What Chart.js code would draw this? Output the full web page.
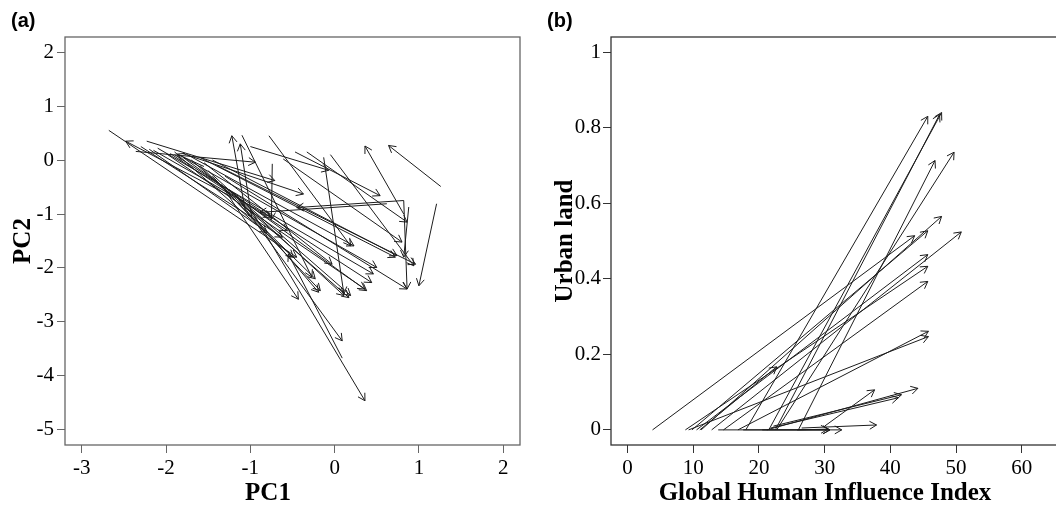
<!DOCTYPE html>
<html>
<head>
<meta charset="utf-8">
<script src="https://cdn.jsdelivr.net/npm/chart.js@4.4.1/dist/chart.umd.min.js"></script>
<style>
html, body { margin:0; padding:0; background:#fff; overflow:hidden; }
#wrap { position:relative; width:1056px; height:509px; overflow:hidden; }
.panel { position:absolute; top:0; height:509px; }
.tag { position:absolute; top:9px; font:bold 20px 'Liberation Sans', Arial, sans-serif; color:#000; line-height:23px; }
</style>
</head>
<body>
<div id="wrap">
  <div class="panel" style="left:0;width:536px"><canvas id="ca" width="536" height="509"></canvas></div>
  <div class="panel" style="left:536px;width:578px"><canvas id="cb" width="578" height="509"></canvas></div>
  <div class="tag" style="left:11px">(a)</div>
  <div class="tag" style="left:547px">(b)</div>
</div>
<script>
// panel (a): PC1 / PC2 arrows, start -> end
const aX0 = [-2.68,-1.20,-2.36,-2.23,-1.06,-0.98,-1.55, 0.82, 1.26, 1.21,-0.47, 0.82, 0.62, 0.82, 0.88,-0.13,-1.10,-0.78,-0.33,-0.61,-0.05,-0.74, 0.09,-1.00,-1.20,-1.35,-1.60,-1.45,-1.70,-1.50,-1.80,-1.90,-1.30,-2.00,-1.25,-1.15,-1.85,-2.10,-1.55,-1.75,-1.45,-1.60,-1.40,-1.90,-2.20,-1.80,-2.30,-1.95,-2.15,-1.00]
const aY0 = [ 0.55,-0.70, 0.16, 0.35,-0.94,-1.10,-0.12,-1.00,-0.49,-0.81, 0.15,-0.75,-0.81,-0.75,-0.87, 0.05, 0.46, 0.45, 0.15, 0.02, 0.10,-0.07,-3.67,-0.90,-0.60,-0.45,-0.10,-0.30, 0.00,-0.20, 0.05, 0.10,-0.30, 0.12,-0.55,-0.70, 0.10, 0.22,-0.05, 0.10, 0.00, 0.05,-0.10, 0.15, 0.20, 0.12, 0.25, 0.12, 0.18, 0.25]
const aX1 = [-0.45,-2.48,-0.94,-0.71,-1.22,-1.12,-1.87, 0.36, 0.64, 1.00, 0.54,-0.45,-0.89, 0.86, 0.82, 0.11,-0.27, 0.19, 0.86, 0.80, 0.94,-0.75,-0.55, 0.36, 0.09,-0.43,-0.23,-0.17, 0.17, 0.11, 0.38, 0.44, 0.86, 0.36, 0.19,-0.19, 0.50, 0.46,-0.03, 0.23, 0.74, 0.72, 0.96,-0.49,-0.80,-0.37,-0.62,-0.56,-0.76,-0.07]
const aY1 = [-1.80, 0.35,-0.04,-0.38, 0.45, 0.30, 0.11, 0.26, 0.27,-2.33,-0.66,-0.88,-0.97,-2.39,-1.80,-2.48,-2.17,-1.59,-1.15,-1.52,-1.96,-1.10,-1.74,-4.46,-3.35,-2.58,-2.20,-2.42,-2.55,-2.51,-2.42,-2.27,-2.39,-2.39,-2.51,-2.45,-1.99,-2.11,-1.93,-1.59,-1.77,-1.80,-1.93,-1.80,-1.34,-0.63,-1.43,-1.31,-1.06,-0.19]
const aTicksX = [-3,-2,-1,0,1,2]
const aTicksY = [-5,-4,-3,-2,-1,0,1,2]

// panel (b): Global Human Influence Index / Urban land arrows
const bX0 = [3.8, 8.8, 9.3, 9.8,10.5,11.2,12.8,14.6,16.8,18.0,21.5,22.5,26.0,22.7,11.0,30.0,22.2,21.8,21.2,26.5,13.8,17.6,20.5,25.8]
const bY0 = [0,   0,   0,   0,   0,   0,   0,   0,   0,   0,   0,   0,   0,   0,   0,   0.01,0.01,0.005,0,  0.005,0,   0,   0,   0]
const bX1 = [43.7,45.7,45.8,45.7,45.7,47.8,50.8,45.7,45.8,45.7,47.8,47.5,46.8,49.7,22.7,37.6,41.7,41.2,44.2,37.9,30.8,30.8,32.6,30.5]
const bY1 = [0.514,0.433,0.247,0.527,0.464,0.565,0.524,0.393,0.261,0.83,0.84,0.835,0.713,0.735,0.167,0.106,0.093,0.085,0.11,0.013,0,0,0,0.002]
const bTicksX = [0,10,20,30,40,50,60]
const bTicksY = [0,0.2,0.4,0.6,0.8,1]

const serif = 'Liberation Serif'

// arrowheads at the end point of every two-point line
const heads = {
    id:'heads',
    afterDatasetsDraw(chart){
        const ctx = chart.ctx
        ctx.save()
        ctx.strokeStyle = '#1c1c1c'
        ctx.lineWidth = 1
        chart.data.datasets.forEach((d,i)=>{
            const m = chart.getDatasetMeta(i)
            const p0 = m.data[0], p1 = m.data[1]
            const ang = Math.atan2(p1.y-p0.y, p1.x-p0.x)
            ctx.beginPath()
            for (const s of [-1,1]) {
                ctx.moveTo(p1.x, p1.y)
                ctx.lineTo(p1.x - 8*Math.cos(ang + s*0.52), p1.y - 8*Math.sin(ang + s*0.52))
            }
            ctx.stroke()
        })
        ctx.restore()
    }
}

// box round the plot region
const frame = {
    id:'frame',
    afterDraw(chart, args, opts){
        const a = chart.chartArea, ctx = chart.ctx
        ctx.save()
        ctx.strokeStyle = opts.color
        ctx.lineWidth = 1.3
        ctx.strokeRect(a.left, a.top, a.right-a.left, a.bottom-a.top)
        ctx.restore()
    }
}

function arrows(x0,y0,x1,y1){
    return x0.map((v,i)=>({
        data:[{x:v,y:y0[i]},{x:x1[i],y:y1[i]}],
        showLine:true,
        borderColor:'#1c1c1c',
        borderWidth:1,
        pointRadius:0,
        pointHoverRadius:0
    }))
}

function axis(min, max, ticks, title, size, tickPad, titlePad, boxColor){
    return {
        type:'linear', min, max,
        afterBuildTicks: s => { s.ticks = ticks.map(v=>({value:v})) },
        afterFit: s => { if (s.isHorizontal()) s.height = size; else s.width = size },
        grid:{ display:true, drawOnChartArea:false, drawTicks:true, tickLength:8, color:boxColor, lineWidth:1 },
        border:{ display:false },
        ticks:{ autoSkip:false, maxRotation:0, padding:tickPad, color:'#000', font:{family:serif, size:21}, callback:v=>String(v) },
        title: title ? { display:true, text:title, color:'#000', font:{family:serif, size:25, weight:'bold'}, padding:{top:titlePad, bottom:0} } : { display:false }
    }
}

function makeChart(id, sets, xs, ys, rightW, xTitle, boxColor){
    return new Chart(document.getElementById(id), {
        type:'scatter',
        data:{ datasets:sets },
        options:{
            responsive:false,
            animation:false,
            events:[],
            layout:{ padding:{ top:37, left:0, right:0, bottom:0 } },
            scales:{
                x: xs,
                y: ys,
                pad:{ type:'linear', position:'right', afterFit: s => { s.width = rightW },
                      ticks:{ display:false }, grid:{ display:false }, border:{ display:false } }
            },
            plugins:{
                legend:{ display:false },
                tooltip:{ enabled:false },
                frame:{ color:boxColor },
                title:{ display:true, position:'bottom', text:xTitle, color:'#000',
                        font:{family:serif, size:25, weight:'bold'}, padding:{top:4, bottom:0} }
            }
        },
        plugins:[heads, frame]
    })
}

makeChart('ca', arrows(aX0,aY0,aX1,aY1),
    axis(-3.2, 2.2, aTicksX, null, 30, 3, 0, '#666'),
    axis(-5.28, 2.28, aTicksY, 'PC2', 65, 3, 9, '#666'),
    16, 'PC1', '#666')

makeChart('cb', arrows(bX0,bY0,bX1,bY1),
    axis(-2.52, 65.52, bTicksX, null, 30, 3, 0, '#333'),
    axis(-0.04, 1.04, bTicksY, 'Urban land', 75, 2, 15, '#333'),
    56, 'Global Human Influence Index', '#333')
</script>
</body>
</html>
